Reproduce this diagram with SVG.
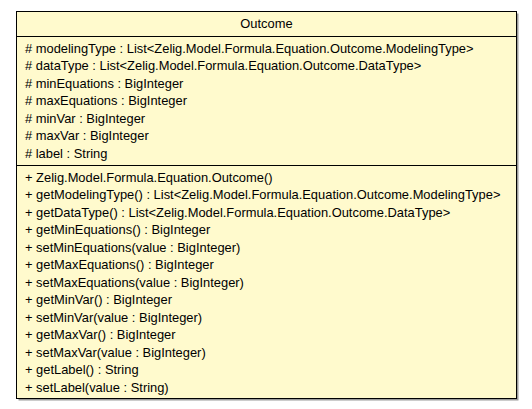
<svg xmlns="http://www.w3.org/2000/svg" width="532" height="409" viewBox="0 0 532 409">
  <style>
    .box { fill: #FFFACD; stroke: #000; stroke-width: 1; }
    .shadow { fill: #9a9a9a; }
    .sep { stroke: #000; stroke-width: 1; }
    text { font-family: "Liberation Sans", Arial, sans-serif; font-size: 12.9px; fill: #000; }
    .title { text-anchor: middle; }
  </style>
  <rect width="532" height="409" fill="#fff"/>
  <g id="Outcome">
    <!-- drop shadow -->
    <rect class="shadow" x="18.5" y="13.5" width="500" height="387"/>
    <rect class="box" x="16.5" y="11.5" width="500" height="387"/>
    <line class="sep" x1="16.5" y1="36.5" x2="516.5" y2="36.5"/>
    <line class="sep" x1="16.5" y1="165.5" x2="516.5" y2="165.5"/>
    <text class="title" x="266.5" y="28">Outcome</text>
    <!-- attributes -->
    <text x="25" y="52.5"># modelingType : List&lt;Zelig.Model.Formula.Equation.Outcome.ModelingType&gt;</text>
    <text x="25" y="70"># dataType : List&lt;Zelig.Model.Formula.Equation.Outcome.DataType&gt;</text>
    <text x="25" y="87.5"># minEquations : BigInteger</text>
    <text x="25" y="105"># maxEquations : BigInteger</text>
    <text x="25" y="122.5"># minVar : BigInteger</text>
    <text x="25" y="140"># maxVar : BigInteger</text>
    <text x="25" y="157.5"># label : String</text>
    <!-- operations -->
    <text x="25" y="181.5">+ Zelig.Model.Formula.Equation.Outcome()</text>
    <text x="25" y="199">+ getModelingType() : List&lt;Zelig.Model.Formula.Equation.Outcome.ModelingType&gt;</text>
    <text x="25" y="216.5">+ getDataType() : List&lt;Zelig.Model.Formula.Equation.Outcome.DataType&gt;</text>
    <text x="25" y="234">+ getMinEquations() : BigInteger</text>
    <text x="25" y="251.5">+ setMinEquations(value : BigInteger)</text>
    <text x="25" y="269">+ getMaxEquations() : BigInteger</text>
    <text x="25" y="286.5">+ setMaxEquations(value : BigInteger)</text>
    <text x="25" y="304">+ getMinVar() : BigInteger</text>
    <text x="25" y="321.5">+ setMinVar(value : BigInteger)</text>
    <text x="25" y="339">+ getMaxVar() : BigInteger</text>
    <text x="25" y="356.5">+ setMaxVar(value : BigInteger)</text>
    <text x="25" y="374">+ getLabel() : String</text>
    <text x="25" y="391.5">+ setLabel(value : String)</text>
  </g>
  <g id="connectors"/>
</svg>
